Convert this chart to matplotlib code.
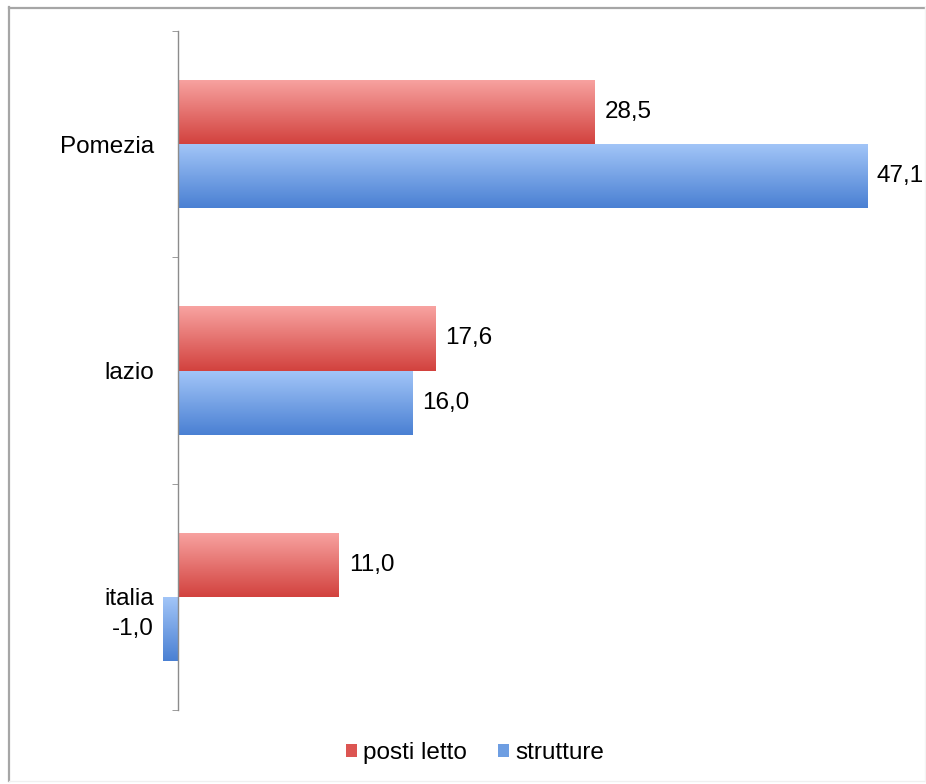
import numpy as np
import matplotlib
matplotlib.use("Agg")
import matplotlib.pyplot as plt
from matplotlib.colors import LinearSegmentedColormap
from matplotlib.patches import Patch

plt.rcParams['font.family'] = ['Liberation Sans', 'DejaVu Sans']

# data (bottom -> top, as drawn)
categories = ['italia', 'lazio', 'Pomezia']
posti_letto = [11.0, 17.6, 28.5]
strutture = [-1.0, 16.0, 47.1]
series_names = ['posti letto', 'strutture']

red_top, red_bot = '#F8A3A1', '#D2423E'
blue_top, blue_bot = '#A3C6F8', '#4A80D3'

fig = plt.figure(figsize=(9.26, 7.84), dpi=100)
ax = fig.add_axes([0.0342, 0.0944, 0.948, 0.866])

y = np.arange(len(categories))
h = 0.283

bars_red = ax.barh(y + h / 2, posti_letto, height=h, color='#E06864', zorder=2)
bars_blue = ax.barh(y - h / 2, strutture, height=h, color='#6A9BE0', zorder=2)


def gradient_fill(bars, top, bottom):
    # vertical gradient (light on top, darker below), clipped to each bar
    cmap = LinearSegmentedColormap.from_list('g', [top, bottom])
    grad = np.linspace(0, 1, 128).reshape(-1, 1)
    for b in bars:
        x0, y0 = b.get_x(), b.get_y()
        x1, y1 = x0 + b.get_width(), y0 + b.get_height()
        im = ax.imshow(grad, cmap=cmap, aspect='auto', origin='upper',
                       extent=(min(x0, x1), max(x0, x1), y0, y1), zorder=2.5)
        im.set_clip_path(b)


gradient_fill(bars_red, red_top, red_bot)
gradient_fill(bars_blue, blue_top, blue_bot)

fmt = lambda v: ('%.1f' % v).replace('.', ',')
ax.bar_label(bars_red, labels=[fmt(v) for v in posti_letto], padding=7, fontsize=17.5)
ax.bar_label(bars_blue, labels=[fmt(v) for v in strutture], padding=7, fontsize=17.5)

ax.set_xlim(-10, 50)
ax.set_ylim(-0.5, len(categories) - 0.5)

# axis styling
for s in ['top', 'right', 'bottom']:
    ax.spines[s].set_visible(False)
ax.spines['left'].set_position(('data', 0))
ax.spines['left'].set_color('#8C8C8C')
ax.spines['left'].set_linewidth(1.0)
ax.set_xticks([])
ax.set_yticks(y)
ax.set_yticklabels(categories, fontsize=17.5)
ax.tick_params(axis='y', which='major', length=0, pad=17)
ax.set_yticks(np.arange(-0.5, len(categories)), minor=True)
ax.tick_params(axis='y', which='minor', length=4.5, color='#8C8C8C', direction='out')

handles = [Patch(facecolor='#DC5552', edgecolor='none'),
           Patch(facecolor='#6E9EE2', edgecolor='none')]
fig.legend(handles, series_names, loc='center', bbox_to_anchor=(0.513, 0.039),
           ncol=2, frameon=False, fontsize=17.5, handlelength=0.45,
           handleheight=0.45, handletextpad=0.25, columnspacing=1.3)

# outer chart frame
fw, fh = 926, 784
fig.add_artist(plt.Line2D([9 / fw, 9 / fw], [1 - 7 / fh, 1 - 781 / fh],
                          transform=fig.transFigure, color='#A6A6A6', lw=1.6))
fig.add_artist(plt.Line2D([9 / fw, 926 / fw], [1 - 7.5 / fh, 1 - 7.5 / fh],
                          transform=fig.transFigure, color='#A6A6A6', lw=1.6))
fig.add_artist(plt.Line2D([9 / fw, 926 / fw], [1 - 781 / fh, 1 - 781 / fh],
                          transform=fig.transFigure, color='#F0F0F0', lw=1.0))
fig.add_artist(plt.Line2D([924.5 / fw, 924.5 / fw], [1 - 7 / fh, 1 - 781 / fh],
                          transform=fig.transFigure, color='#F4F4F4', lw=1.0))

fig.savefig('out.png', dpi=100)
